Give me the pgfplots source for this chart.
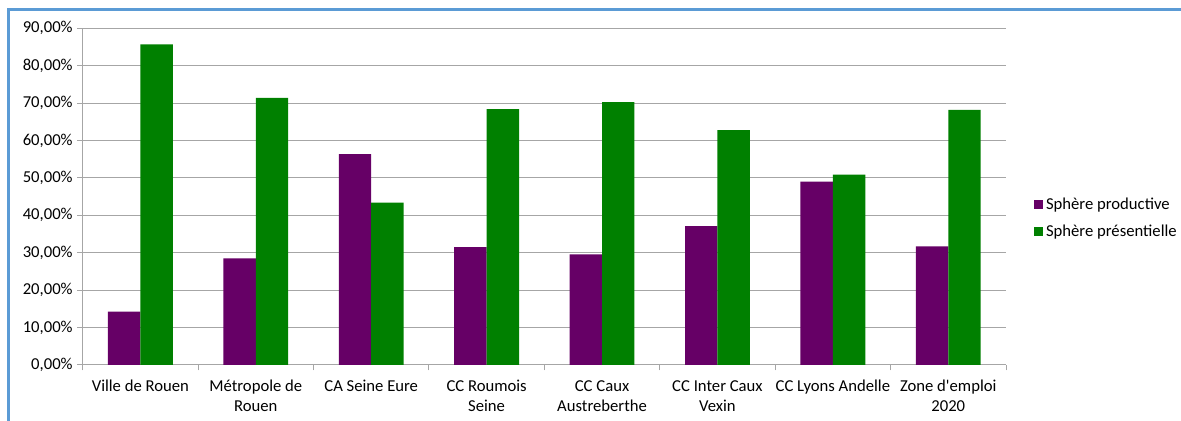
\documentclass[border=0pt]{standalone}
\usepackage{pgfplots}
\pgfplotsset{compat=1.18}
\usepackage{fontspec}
\setmainfont{Carlito}
\definecolor{prod}{HTML}{660066}
\definecolor{pres}{HTML}{008000}
\definecolor{gridgray}{HTML}{A6A6A6}
\definecolor{frameblue}{HTML}{5B9BD5}
\newcommand{\lbl}{\fontsize{12.5}{15}\selectfont}
\begin{document}
\begin{tikzpicture}
  % page = 1181 x 421 px, 1 px = 0.75pt, origin bottom left
  \useasboundingbox (0,0) rectangle (885.75pt,315.75pt);
  \draw[frameblue,line width=2.25pt] (6pt,0) -- (6pt,308.5pt) -- (885.75pt,308.5pt);
  \begin{axis}[
      at={(62.0pt,42.0pt)}, anchor=south west,
      scale only axis,
      width=692.5pt, height=252.5pt,
      xmin=0.5, xmax=8.5, ymin=0, ymax=0.9,
      ybar=0pt, bar width=0.281,
      axis x line*=bottom, axis y line*=left,
      axis line style={gridgray,line width=0.75pt},
      ymajorgrids, grid style={gridgray,line width=0.75pt},
      xtick={1,...,8},
      xticklabels={Ville de Rouen,Métropole de\\Rouen,CA Seine Eure,CC Roumois\\Seine,CC Caux\\Austreberthe,CC Inter Caux\\Vexin,CC Lyons Andelle,Zone d\textquotesingle emploi\\2020},
      major x tick style={draw=none},
      minor xtick={0.5,1.5,...,8.5},
      minor x tick style={gridgray,line width=0.75pt},
      minor tick length=4pt,
      xticklabel style={align=center,font=\lbl,yshift=-4pt},
      ytick={0,0.1,...,0.9},
      yticklabels={{0,00\%},{10,00\%},{20,00\%},{30,00\%},{40,00\%},{50,00\%},{60,00\%},{70,00\%},{80,00\%},{90,00\%}},
      yticklabel style={font=\lbl},
      major y tick style={gridgray,line width=0.75pt},
      major tick length=4pt,
      tick align=outside,
      legend style={at={(1.026,0.437)},anchor=west,draw=none,fill=none,
        font=\lbl,row sep=6pt},
      legend cell align=left,
      enlargelimits=false, clip=false,
    ]
    \addplot[fill=prod,draw=none,area legend,
      legend image code/.code={\fill[prod] (0pt,-3.4pt) rectangle (6.8pt,3.4pt);}] coordinates {
      (1,0.1425) (2,0.285) (3,0.564) (4,0.315) (5,0.296) (6,0.371) (7,0.490) (8,0.317)
    };
    \addlegendentry{Sphère productive}
    \addplot[fill=pres,draw=none,area legend,
      legend image code/.code={\fill[pres] (0pt,-3.4pt) rectangle (6.8pt,3.4pt);}] coordinates {
      (1,0.857) (2,0.714) (3,0.434) (4,0.684) (5,0.703) (6,0.628) (7,0.509) (8,0.682)
    };
    \addlegendentry{Sphère présentielle}
  \end{axis}
\end{tikzpicture}
\end{document}
